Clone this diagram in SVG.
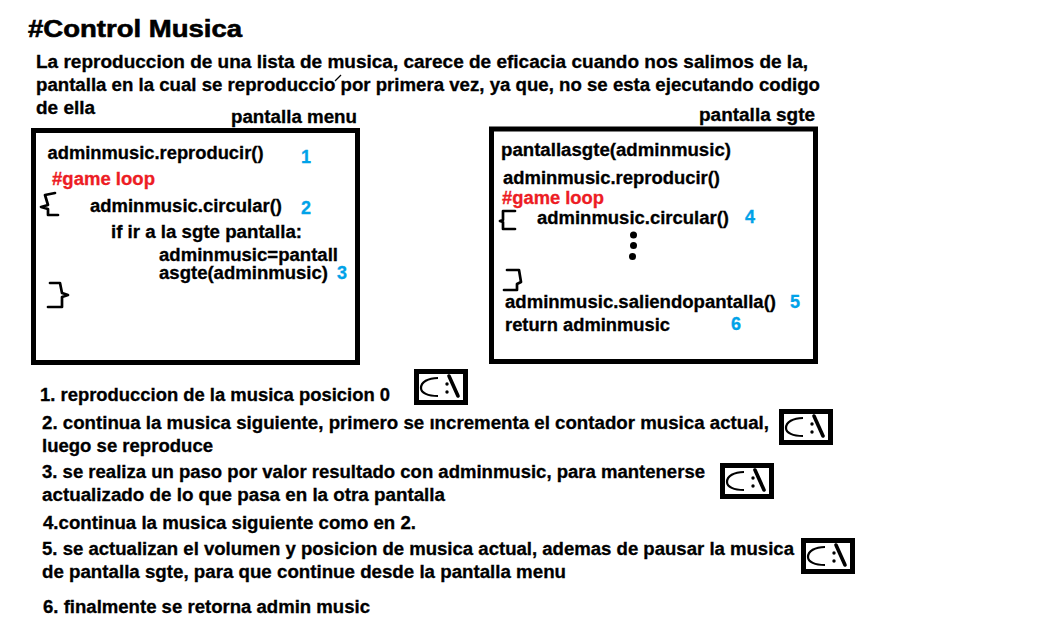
<svg xmlns="http://www.w3.org/2000/svg" width="1047" height="644" viewBox="0 0 1047 644">
<style>
text{font-family:"Liberation Sans",Arial,sans-serif;font-weight:700;font-size:18px;fill:#000;stroke:#000;stroke-width:.3;transform:translateY(.5px)}
.t{font-size:24px;stroke-width:.6}
.r{fill:#ed1c24;stroke:#ed1c24}
.b{fill:#00a2e8;stroke:#00a2e8}
.box{fill:#fff;stroke:#000;stroke-width:5}
.ln{fill:none;stroke:#000;stroke-width:2.7;stroke-linecap:round;stroke-linejoin:round}
.ib{fill:#fff;stroke:#000;stroke-width:5}
.ic{fill:none;stroke:#000;stroke-width:2.200}
.is{fill:none;stroke:#000;stroke-width:3.6;stroke-linecap:round}
</style>
<defs>
<g id="cmd">
<rect class="ib" x="2.500" y="2.500" width="49" height="31"/>
<path class="ic" d="M24 9C14 9 7 13 7 19C7 24 14 27 24 27"/>
<circle cx="33" cy="15" r="1.700"/><circle cx="33" cy="23" r="1.700"/>
<path class="is" d="M35 7L44 27"/>
</g>
</defs>
<rect width="1047" height="644" fill="#fff"/>
<g id="intro">
<text class="t" x="28" y="36" textLength="214" lengthAdjust="spacingAndGlyphs">#Control Musica</text>
<text x="36" y="67" textLength="772" lengthAdjust="spacingAndGlyphs">La reproduccion de una lista de musica, carece de eficacia cuando nos salimos de la,</text>
<text x="36" y="90" textLength="784" lengthAdjust="spacingAndGlyphs">pantalla en la cual se reproduccio por primera vez, ya que, no se esta ejecutando codigo</text>
<path d="M335 81L341 75" fill="none" stroke="#000" stroke-width="1.2"/>
<text x="36" y="113" textLength="59" lengthAdjust="spacingAndGlyphs">de ella</text>
</g>
<g id="pantalla-menu">
<text x="231" y="122" textLength="126" lengthAdjust="spacingAndGlyphs">pantalla menu</text>
<rect class="box" x="33.500" y="130.500" width="324" height="232"/>
<text x="47.500" y="158" textLength="216" lengthAdjust="spacingAndGlyphs">adminmusic.reproducir()</text>
<text class="b" x="301" y="162">1</text>
<text class="r" x="52" y="184" textLength="103" lengthAdjust="spacingAndGlyphs">#game loop</text>
<path class="ln" d="M55 193L45 195L48 205L41 207L48 209L48 215L58 215"/>
<text x="90" y="211" textLength="192" lengthAdjust="spacingAndGlyphs">adminmusic.circular()</text>
<text class="b" x="301" y="213">2</text>
<text x="111" y="237" textLength="191" lengthAdjust="spacingAndGlyphs">if ir a la sgte pantalla:</text>
<text x="159" y="260" textLength="179" lengthAdjust="spacingAndGlyphs">adminmusic=pantall</text>
<text x="159" y="278" textLength="169" lengthAdjust="spacingAndGlyphs">asgte(adminmusic)</text>
<text class="b" x="337" y="278">3</text>
<path class="ln" d="M50 283L60 283L62 293L68 295L62 297L62 307L48 307"/>
</g>
<g id="pantalla-sgte">
<text x="699" y="120" textLength="116" lengthAdjust="spacingAndGlyphs">pantalla sgte</text>
<rect class="box" x="491.500" y="129" width="324" height="232.500"/>
<text x="501" y="155" textLength="230" lengthAdjust="spacingAndGlyphs">pantallasgte(adminmusic)</text>
<text x="503" y="183" textLength="217" lengthAdjust="spacingAndGlyphs">adminmusic.reproducir()</text>
<text class="r" x="502" y="203" textLength="102" lengthAdjust="spacingAndGlyphs">#game loop</text>
<path class="ln" d="M515 211L503 211L503 220L500 221L503 222L503 229L515 229"/>
<text x="537" y="223" textLength="192" lengthAdjust="spacingAndGlyphs">adminmusic.circular()</text>
<text class="b" x="745" y="222">4</text>
<circle cx="633.500" cy="235" r="3.500"/><circle cx="633.500" cy="245.500" r="3.500"/><circle cx="632.500" cy="256.500" r="3.500"/>
<path class="ln" d="M507 270L519 270L521 282L517 284L517 290L504 290"/>
<text x="505" y="307" textLength="271" lengthAdjust="spacingAndGlyphs">adminmusic.saliendopantalla()</text>
<text class="b" x="790" y="307">5</text>
<text x="505" y="330" textLength="165" lengthAdjust="spacingAndGlyphs">return adminmusic</text>
<text class="b" x="731" y="329">6</text>
</g>
<g id="notes">
<text x="40" y="400" textLength="350" lengthAdjust="spacingAndGlyphs">1. reproduccion de la musica posicion 0</text>
<text x="42" y="428" textLength="727" lengthAdjust="spacingAndGlyphs">2. continua la musica siguiente, primero se ıncrementa el contador musica actual,</text>
<text x="42" y="451" textLength="171" lengthAdjust="spacingAndGlyphs">luego se reproduce</text>
<text x="42" y="477" textLength="663" lengthAdjust="spacingAndGlyphs">3. se realiza un paso por valor resultado con adminmusic, para mantenerse</text>
<text x="42" y="500" textLength="403" lengthAdjust="spacingAndGlyphs">actualizado de lo que pasa en la otra pantalla</text>
<text x="43" y="528" textLength="373" lengthAdjust="spacingAndGlyphs">4.continua la musica siguiente como en 2.</text>
<text x="42" y="554" textLength="752" lengthAdjust="spacingAndGlyphs">5. se actualizan el volumen y posicion de musica actual, ademas de pausar la musica</text>
<text x="42" y="577" textLength="524" lengthAdjust="spacingAndGlyphs">de pantalla sgte, para que continue desde la pantalla menu</text>
<text x="43" y="612" textLength="327" lengthAdjust="spacingAndGlyphs">6. finalmente se retorna admin music</text>
</g>
<g id="iconos">
<use href="#cmd" x="414" y="369"/>
<use href="#cmd" x="779" y="409"/>
<use href="#cmd" x="720" y="463"/>
<use href="#cmd" x="801" y="538"/>
</g>
</svg>
